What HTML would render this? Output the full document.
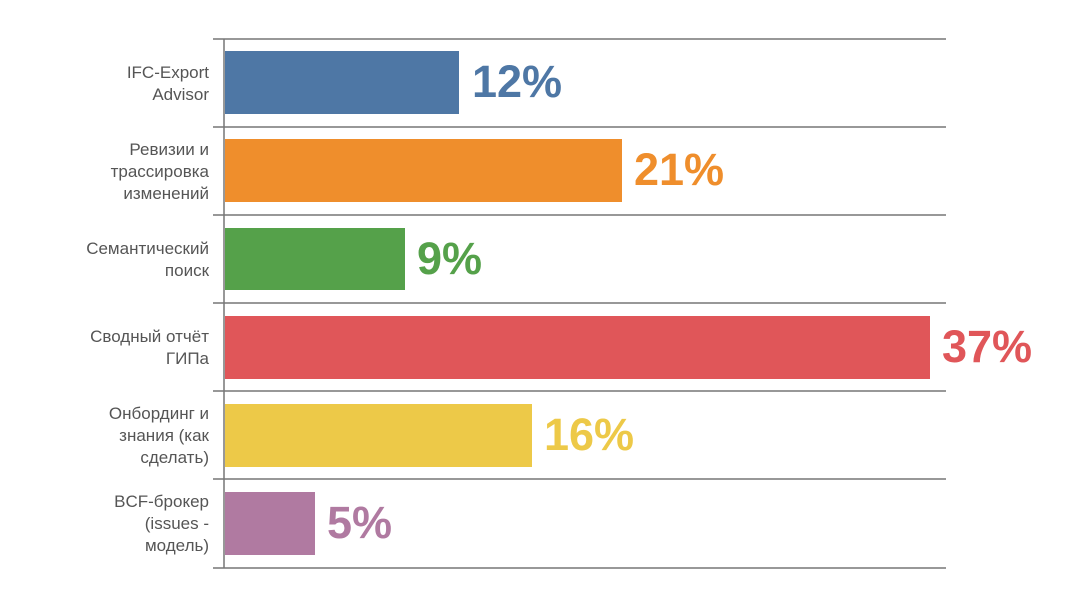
<!DOCTYPE html>
<html><head><meta charset="utf-8"><style>body{margin:0;background:#fff}</style></head>
<body>
<svg width="1088" height="600" xmlns="http://www.w3.org/2000/svg" font-family="Liberation Sans, sans-serif">
<g stroke="#777" stroke-width="1.5">
<line x1="213" y1="39" x2="946" y2="39"/>
<line x1="213" y1="127" x2="946" y2="127"/>
<line x1="213" y1="215" x2="946" y2="215"/>
<line x1="213" y1="303" x2="946" y2="303"/>
<line x1="213" y1="391" x2="946" y2="391"/>
<line x1="213" y1="479" x2="946" y2="479"/>
<line x1="213" y1="568" x2="946" y2="568"/>
<line x1="224" y1="39" x2="224" y2="568"/>
</g>
<rect x="225" y="51" width="234" height="63" fill="#4e77a5"/>
<rect x="225" y="139" width="397" height="63" fill="#ef8e2c"/>
<rect x="225" y="228" width="180" height="62" fill="#55a14a"/>
<rect x="225" y="316" width="705" height="63" fill="#e05659"/>
<rect x="225" y="404" width="307" height="63" fill="#edc948"/>
<rect x="225" y="492" width="90" height="63" fill="#b07aa1"/>
<g font-weight="bold" font-size="45">
<text x="472" y="97" fill="#4e77a5">12%</text>
<text x="634" y="185" fill="#ef8e2c">21%</text>
<text x="417" y="274" fill="#55a14a">9%</text>
<text x="942" y="362" fill="#e05659">37%</text>
<text x="544" y="450" fill="#edc948">16%</text>
<text x="327" y="538" fill="#b07aa1">5%</text>
</g>
<g font-size="17" fill="#555" text-anchor="end">
<text x="209" y="78">IFC-Export</text><text x="209" y="100">Advisor</text>
<text x="209" y="155">Ревизии и</text><text x="209" y="177">трассировка</text><text x="209" y="199">изменений</text>
<text x="209" y="254">Семантический</text><text x="209" y="276">поиск</text>
<text x="209" y="342">Сводный отчёт</text><text x="209" y="364">ГИПа</text>
<text x="209" y="419">Онбординг и</text><text x="209" y="441">знания (как</text><text x="209" y="463">сделать)</text>
<text x="209" y="507">BCF-брокер</text><text x="209" y="529">(issues -</text><text x="209" y="551">модель)</text>
</g>
</svg>
</body></html>
